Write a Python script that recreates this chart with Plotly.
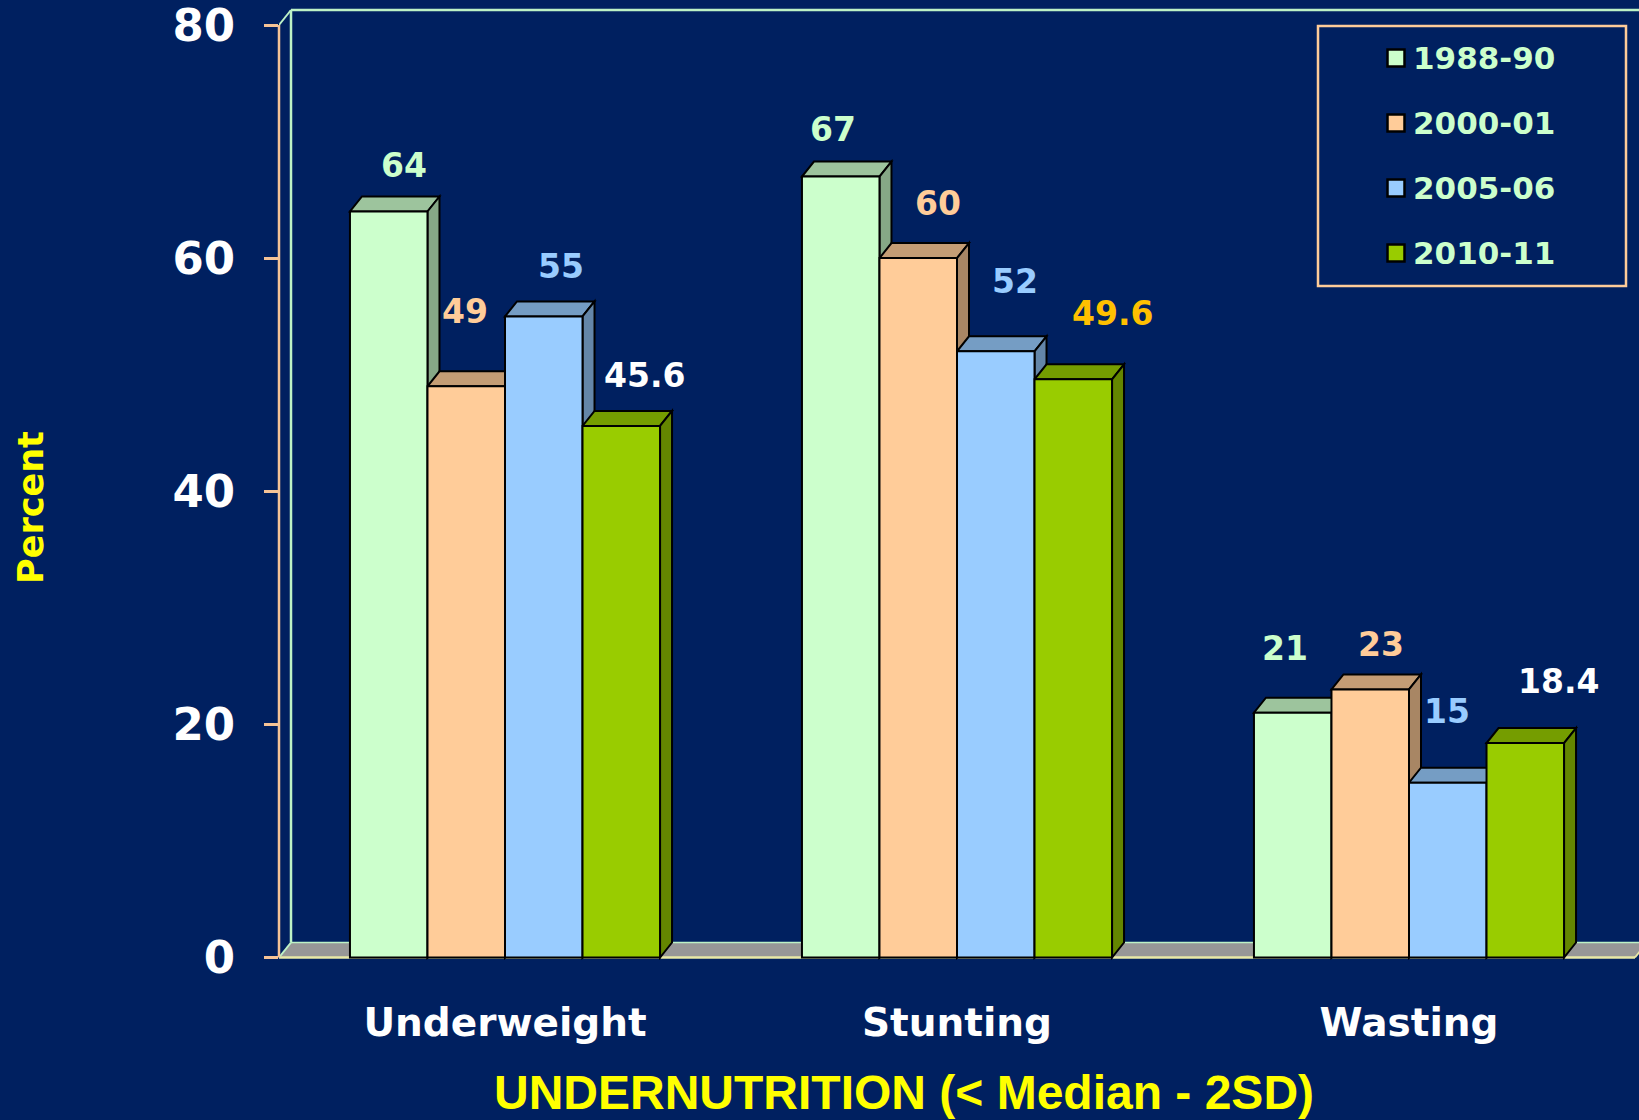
import plotly.graph_objects as go

# ---- data -------------------------------------------------------------
categories = ["Underweight", "Stunting", "Wasting"]
periods = ["1988-90", "2000-01", "2005-06", "2010-11"]

pct_1988_90 = [64, 67, 21]
pct_2000_01 = [49, 60, 23]
pct_2005_06 = [55, 52, 15]
pct_2010_11 = [45.6, 49.6, 18.4]

y_ticks = [0, 20, 40, 60, 80]

# ---- styling ----------------------------------------------------------
series = [pct_1988_90, pct_2000_01, pct_2005_06, pct_2010_11]
bar_colors = ["#CCFFCC", "#FFCC99", "#99CCFF", "#99CC00"]
label_colors = [
    ["#CCFFCC"] * 3,
    ["#FFCC99"] * 3,
    ["#99CCFF"] * 3,
    ["#FFFFFF", "#FFC000", "#FFFFFF"],
]
# per-label nudges (px) relative to the top-centre of each bar: (dx, dy)
label_nudge = [
    [(15, 46), (-8, 47), (-8, 64)],
    [(-1, 75), (20, 55), (11, 45)],
    [(17, 50), (19, 70), (-1, 71)],
    [(23, 50), (39, 66), (33, 62)],
]

BG = "#002060"
AXIS_TAN = "#F5C396"
WALL_GREEN = "#BDF2C6"
FLOOR_EDGE = "#E9E9A6"
FLOOR_FILL = "#979797"
TEXT_FONT = "DejaVu Sans"

W, H = 1639, 1120
ML, MR, MT, MB = 279, 0, 0, 160
plot_w = W - ML - MR
plot_h = H - MT - MB

# axis scaling: 80% sits 25 px below the top of the figure, zero at 957.5 px
zero_px = 957.5
px_per_y = (zero_px - 25) / 80.0
y_lo = -(MT + plot_h - zero_px) / px_per_y
y_hi = y_lo + plot_h / px_per_y
px_per_x = 452.0
x_lo = -0.5
x_hi = x_lo + plot_w / px_per_x
floor_right = 2.5

GROUP_FRAC = 0.686
bar_w = GROUP_FRAC / len(series)

# oblique depth of the pseudo-3D bars, floor and walls
DX = 12.0 / px_per_x
DY = 15.0 / px_per_y


def shade(hex_color, k):
    h = hex_color.lstrip("#")
    r, g, b = (int(h[i:i + 2], 16) for i in (0, 2, 4))
    return "#%02X%02X%02X" % (int(r * k), int(g * k), int(b * k))


def paper_xy(px, py):
    """Figure pixel position -> paper coordinates."""
    return (px - ML) / plot_w, (MT + plot_h - py) / plot_h


fig = go.Figure()
shapes = []

# floor
shapes.append(dict(
    type="path", xref="x", yref="y", layer="below",
    path=f"M {x_lo},0 L {floor_right},0 L {floor_right + DX},{DY} L {x_lo + DX},{DY} Z",
    fillcolor=FLOOR_FILL, line=dict(width=0),
))
shapes.append(dict(type="line", xref="x", yref="y", layer="below",
                   x0=x_lo + DX, y0=DY, x1=floor_right + DX + 0.05, y1=DY,
                   line=dict(color=WALL_GREEN, width=1.5)))
shapes.append(dict(type="line", xref="x", yref="y", layer="below",
                   x0=x_lo, y0=0, x1=floor_right, y1=0,
                   line=dict(color=FLOOR_EDGE, width=2.5)))
shapes.append(dict(type="line", xref="x", yref="y", layer="below",
                   x0=floor_right, y0=0, x1=floor_right + DX, y1=DY,
                   line=dict(color=FLOOR_EDGE, width=2)))
shapes.append(dict(type="line", xref="x", yref="y", layer="below",
                   x0=x_lo, y0=0, x1=x_lo + DX, y1=DY,
                   line=dict(color=WALL_GREEN, width=2)))

# back wall outline
top = y_ticks[-1]
shapes.append(dict(type="line", xref="x", yref="y", layer="below",
                   x0=x_lo + DX, y0=DY, x1=x_lo + DX, y1=top + DY,
                   line=dict(color=WALL_GREEN, width=2.5)))
shapes.append(dict(type="line", xref="x", yref="y", layer="below",
                   x0=x_lo + DX, y0=top + DY, x1=x_hi + 0.1, y1=top + DY,
                   line=dict(color=WALL_GREEN, width=2.5)))
shapes.append(dict(type="line", xref="x", yref="y", layer="below",
                   x0=x_lo, y0=top, x1=x_lo + DX, y1=top + DY,
                   line=dict(color=WALL_GREEN, width=2)))

# value axis line
shapes.append(dict(type="line", xref="paper", yref="y",
                   x0=0, y0=0, x1=0, y1=top,
                   line=dict(color=AXIS_TAN, width=2.5)))

# bars: front faces are bar traces, top and side faces are shaded paths
x_pos = list(range(len(categories)))
for i, (name, vals, col) in enumerate(zip(periods, series, bar_colors)):
    offset = -GROUP_FRAC / 2 + i * bar_w
    fig.add_trace(go.Bar(
        name=name, x=x_pos, y=vals, width=bar_w, offset=offset,
        marker=dict(color=col, line=dict(color="#000000", width=2)),
        showlegend=False,
        customdata=categories,
        hovertemplate="%{customdata}<br>" + name + ": %{y}%<extra></extra>",
    ))

for j in range(len(categories)):
    for i, (vals, col) in enumerate(zip(series, bar_colors)):
        L = j - GROUP_FRAC / 2 + i * bar_w
        R = L + bar_w
        T = vals[j]
        shapes.append(dict(
            type="path", xref="x", yref="y", layer="below",
            path=f"M {L},{T} L {R},{T} L {R + DX},{T + DY} L {L + DX},{T + DY} Z",
            fillcolor=shade(col, 0.77), line=dict(color="#000000", width=2),
        ))
        shapes.append(dict(
            type="path", xref="x", yref="y", layer="below",
            path=f"M {R},0 L {R},{T} L {R + DX},{T + DY} L {R + DX},{DY} Z",
            fillcolor=shade(col, 0.66), line=dict(color="#000000", width=2),
        ))

annotations = []

# value labels
for i, vals in enumerate(series):
    for j, v in enumerate(vals):
        dx, dy = label_nudge[i][j]
        annotations.append(dict(
            x=j - GROUP_FRAC / 2 + (i + 0.5) * bar_w, y=v, xref="x", yref="y",
            text=f"{v:g}", showarrow=False, xanchor="center", yanchor="middle",
            xshift=dx, yshift=dy,
            font=dict(family=TEXT_FONT, weight="bold", size=33, color=label_colors[i][j]),
        ))

# axis titles
tx, ty = paper_xy(904, 1092)
annotations.append(dict(
    x=tx, y=ty, xref="paper", yref="paper", showarrow=False,
    text="UNDERNUTRITION (< Median - 2SD)", xanchor="center", yanchor="middle",
    font=dict(family="Liberation Sans", weight="bold", size=48, color="#FFFF00"),
))
px_, py_ = paper_xy(31, 508)
annotations.append(dict(
    x=px_, y=py_, xref="paper", yref="paper", showarrow=False, textangle=-90,
    text="Percent", xanchor="center", yanchor="middle",
    font=dict(family=TEXT_FONT, weight="bold", size=35, color="#FFFF00"),
))

# legend box
bx0, by0 = paper_xy(1318, 26)
bx1, by1 = paper_xy(1626, 286)
shapes.append(dict(type="rect", xref="paper", yref="paper",
                   x0=bx0, y0=by0, x1=bx1, y1=by1,
                   line=dict(color="#FFCC99", width=2.5), fillcolor="rgba(0,0,0,0)"))
for k, (name, col) in enumerate(zip(periods, bar_colors)):
    cy = 58 + 65 * k
    mx0, my0 = paper_xy(1396 - 8.5, cy - 8.5)
    mx1, my1 = paper_xy(1396 + 8.5, cy + 8.5)
    shapes.append(dict(type="rect", xref="paper", yref="paper",
                       x0=mx0, y0=my0, x1=mx1, y1=my1,
                       fillcolor=col, line=dict(color="#000000", width=2.5)))
    lx, ly = paper_xy(1411, cy)
    annotations.append(dict(
        x=lx, y=ly, xref="paper", yref="paper", showarrow=False,
        text=name, xanchor="left", yanchor="middle",
        font=dict(family=TEXT_FONT, weight="bold", size=31, color="#CCFFCC"),
    ))

fig.update_layout(
    width=W, height=H,
    margin=dict(l=ML, r=MR, t=MT, b=MB, pad=0),
    paper_bgcolor=BG, plot_bgcolor=BG,
    barmode="overlay",
    showlegend=False,
    shapes=shapes,
    annotations=annotations,
    xaxis=dict(
        range=[x_lo, x_hi], tickmode="array", tickvals=x_pos, ticktext=categories,
        showgrid=False, zeroline=False, showline=False, ticks="",
        ticklabelstandoff=36, ticklabeloverflow="allow",
        tickfont=dict(family=TEXT_FONT, weight="bold", size=39, color="#FFFFFF"),
        fixedrange=True,
    ),
    yaxis=dict(
        range=[y_lo, y_hi], tickmode="array", tickvals=y_ticks,
        showgrid=False, zeroline=False, showline=False,
        ticks="outside", ticklen=14, tickwidth=2.5, tickcolor=AXIS_TAN,
        ticklabelstandoff=20, ticklabeloverflow="allow",
        tickfont=dict(family=TEXT_FONT, weight="bold", size=45, color="#FFFFFF"),
        fixedrange=True,
    ),
)

fig.write_html("out.html")
